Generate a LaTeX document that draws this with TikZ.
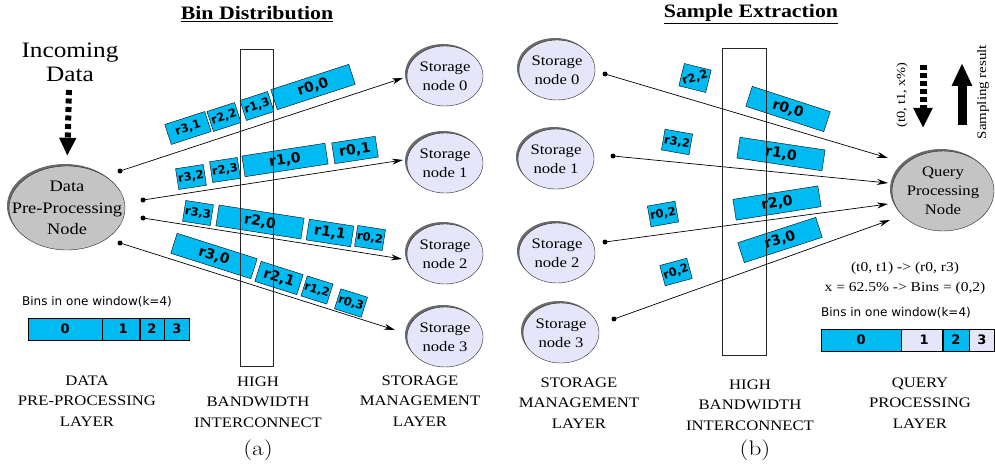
\documentclass[tikz,border=0pt]{standalone}
\usepackage{fontspec}
\setmainfont[FakeStretch=1.15]{Liberation Serif}
\newfontfamily\binfont{DejaVu Sans}
\newfontfamily\capfont[FakeStretch=1.2]{Latin Modern Roman}
\usepackage{tikz}
\usetikzlibrary{positioning,arrows.meta,shapes.geometric,shadows}
\definecolor{BinBlue}{HTML}{00BBF2}
\definecolor{StoreLav}{HTML}{E6E6FA}
\definecolor{ProcGray}{HTML}{C4C4C4}
\definecolor{ShadeGray}{HTML}{6A6A6A}
\tikzset{
  binbox/.style={draw=black, fill=BinBlue, minimum height=21pt, inner sep=0pt, text=black, font={\binfont\bfseries\fontsize{14}{16}\selectfont}},
  minibin/.style={binbox, font={\binfont\bfseries\fontsize{11.5}{13}\selectfont}},
  storenode/.style={ellipse, draw=black!85, fill=StoreLav, minimum width=76pt, minimum height=60pt, inner sep=0pt, align=center, font=\fontsize{14.5}{19}\selectfont, general shadow={fill=ShadeGray, shadow xshift=-2pt, shadow yshift=2pt}},
  procnode/.style={storenode, fill=ProcGray},
  linkarr/.style={-{Stealth[length=11pt,width=6pt]}, line width=0.7pt},
  startdot/.style={circle, fill=black, inner sep=0pt, minimum size=5pt},
  layerlabel/.style={align=center, font=\fontsize{14.5}{20.5}\selectfont},
  headline/.style={font=\bfseries\fontsize{19}{21}\selectfont},
  wintext/.style={font={\binfont\fontsize{12}{14}\selectfont}},
  wincell/.style={draw=black, fill=BinBlue, minimum height=22pt, inner sep=0pt, font={\binfont\bfseries\fontsize{13}{15}\selectfont}},
  hibw/.style={draw=black!85, line width=0.8pt},
  fatdash/.style={line width=6pt, dash pattern=on 5pt off 3.5pt, -{Triangle[length=18pt,width=16pt]}}
}

\begin{document}
\begin{tikzpicture}[x=1pt, y=-1pt]
  \useasboundingbox (0,0) rectangle (995,468);

  % ---------- (a) bin distribution ----------
  \node[headline] (ttla) at (257,14) {\underline{Bin Distribution}};
  \node[align=center, font=\fontsize{22}{24}\selectfont] (incd) at (70,62) {Incoming\\Data};
  \node[procnode, minimum width=116pt, minimum height=84pt, font=\fontsize{16}{21.5}\selectfont] (dpp) at (67,208) {Data\\\makebox[60pt]{Pre-Processing}\\Node};
  \coordinate (inc1) at (69,90);
  \draw[fatdash] (inc1) -- (dpp.north) [shorten >=10pt];

  \node[storenode] (ls0) at (445,76) {Storage\\node 0};
  \node[storenode] (ls1) at (445,163) {Storage\\node 1};
  \node[storenode] (ls2) at (445,254) {Storage\\node 2};
  \node[storenode] (ls3) at (445,337) {Storage\\node 3};

  \node[startdot] (ld0) at (120,171) {};
  \node[startdot] (ld1) at (143,200) {};
  \node[startdot] (ld2) at (143,218) {};
  \node[startdot] (ld3) at (120,243) {};
  \coordinate (le0) at (403,78);
  \coordinate (le1) at (403,160);
  \coordinate (le2) at (402,259);
  \coordinate (le3) at (395,330);
  \draw[linkarr] (ld0.center) -- (le0);
  \draw[linkarr] (ld1.center) -- (le1);
  \draw[linkarr] (ld2.center) -- (le2);
  \draw[linkarr] (ld3.center) -- (le3);

  % bins on the links
  \node[minibin, minimum width=42pt, rotate=18] (a31) at (188,128) {r3,1};
  \node[minibin, minimum width=29pt, rotate=18] (a22) at (224,117) {r2,2};
  \node[minibin, minimum width=29pt, rotate=18] (a13) at (257,106) {r1,3};
  \node[binbox, minimum width=82pt, rotate=18] (a00) at (313,87) {r0,0};
  \node[minibin, minimum width=28pt, rotate=8.7] (a32) at (191,177) {r3,2};
  \node[minibin, minimum width=28pt, rotate=8.7] (a23) at (225,170) {r2,3};
  \node[binbox, minimum width=84pt, rotate=8.7] (a10) at (285,160) {r1,0};
  \node[binbox, minimum width=44pt, rotate=8.7] (a01) at (355,150) {r0,1};
  \node[minibin, minimum width=28pt, rotate=-8.8] (a33) at (198,213) {r3,3};
  \node[binbox, minimum width=86pt, rotate=-8.8] (a20) at (260,222) {r2,0};
  \node[binbox, minimum width=45pt, rotate=-8.8] (a11) at (330,233) {r1,1};
  \node[minibin, minimum width=28pt, rotate=-8.8] (a02) at (370,238) {r0,2};
  \node[binbox, minimum width=84pt, rotate=-17.6] (a30) at (214,256) {r3,0};
  \node[binbox, minimum width=44pt, rotate=-17.6] (a21) at (279,278) {r2,1};
  \node[minibin, minimum width=27pt, rotate=-17.6] (a12) at (317,290) {r1,2};
  \node[minibin, minimum width=28pt, rotate=-17.6] (a03) at (351,303) {r0,3};

  \draw[hibw] (240,49) rectangle (273,366);

  \node[wintext] (wina) at (97,302) {Bins in one window(k=4)};
  \node[wincell, minimum width=74pt, anchor=west] (ac0) at (28,329) {0};
  \node[wincell, minimum width=37pt, right=0pt of ac0] (ac1) {\hspace*{4pt}1};
  \node[wincell, minimum width=24pt, right=0pt of ac1] (ac2) {2};
  \node[wincell, minimum width=25pt, right=0pt of ac2] (ac3) {3};

  \node[layerlabel] (laya1) at (87,401) {DATA\\PRE-PROCESSING\\LAYER};
  \node[layerlabel] (laya2) at (258,402) {HIGH\\BANDWIDTH\\INTERCONNECT};
  \node[layerlabel] (laya3) at (420,401) {STORAGE\\MANAGEMENT\\LAYER};
  \node[font=\capfont\fontsize{21}{24}\selectfont] (capa) at (258,450) {(a)};

  % ---------- (b) sample extraction ----------
  \node[headline] (ttlb) at (751,14) {\underline{Sample Extraction}};

  \node[storenode] (rs0) at (557,70) {Storage\\node 0};
  \node[storenode] (rs1) at (556,159) {Storage\\node 1};
  \node[storenode] (rs2) at (557,253) {Storage\\node 2};
  \node[storenode] (rs3) at (561,333) {Storage\\node 3};
  \node[procnode, minimum width=102pt, minimum height=80pt] (qpn) at (943,191) {Query\\\makebox[60pt]{Processing}\\Node};

  \node[startdot] (rd0) at (605,74) {};
  \node[startdot] (rd1) at (613,156) {};
  \node[startdot] (rd2) at (605,242) {};
  \node[startdot] (rd3) at (614,319) {};
  \coordinate (re0) at (888,158);
  \coordinate (re1) at (888,183);
  \coordinate (re2) at (888,204);
  \coordinate (re3) at (890,220);

  \node[minibin, minimum width=27pt, minimum height=23pt, rotate=-14] (b22) at (695,78) {\rotatebox{30}{r2,2}};
  \node[binbox, minimum width=82pt, rotate=-18] (b00) at (788,109) {r0,0};
  \node[minibin, minimum width=28pt, rotate=-10] (b32) at (677,142) {r3,2};
  \node[binbox, minimum width=86pt, rotate=-8.5] (b10) at (781,154) {r1,0};
  \node[minibin, minimum width=28pt, rotate=10] (b02) at (663,214) {r0,2};
  \node[binbox, minimum width=86pt, rotate=9] (b20) at (777,203) {r2,0};
  \node[minibin, minimum width=28pt, rotate=15] (b02x) at (676,272) {\rotatebox{5}{r0,2}};
  \node[binbox, minimum width=82pt, rotate=18] (b30) at (780,240) {r3,0};

  \draw[hibw] (722,48) rectangle (766,355);

  \draw[linkarr] (rd0.center) -- (re0);
  \draw[linkarr] (rd1.center) -- (re1);
  \draw[linkarr] (rd2.center) -- (re2);
  \draw[linkarr] (rd3.center) -- (re3);

  % query in, result out
  \coordinate (qin1) at (923,65);
  \coordinate (qin2) at (923,128);
  \coordinate (qout1) at (962,125);
  \coordinate (qout2) at (962,63);
  \draw[line width=7pt, dash pattern=on 5pt off 3pt, -{Triangle[length=20pt,width=18pt]}] (qin1) -- (qin2);
  \draw[line width=9pt, -{Triangle[length=23pt,width=19pt]}] (qout1) -- (qout2);
  \node[rotate=90, font=\fontsize{12.5}{14}\selectfont] (qarg) at (902,95) {(t0, t1, x\%)};
  \node[rotate=90, font=\fontsize{13}{15}\selectfont] (qres) at (983,92) {Sampling result};

  \node[font=\fontsize{13.5}{15}\selectfont] (map1) at (905,268) {(t0, t1) -> (r0, r3)};
  \node[font=\fontsize{13.5}{15}\selectfont] (map2) at (905,288) {x = 62.5\% -> Bins = (0,2)};
  \node[wintext] (winb) at (896,313) {Bins in one window(k=4)};
  \node[wincell, minimum width=80pt, anchor=west] (bc0) at (821,340) {0};
  \node[wincell, minimum width=41pt, fill=StoreLav, right=0pt of bc0] (bc1) {\hspace*{4pt}1};
  \node[wincell, minimum width=26pt, right=0pt of bc1] (bc2) {2};
  \node[wincell, minimum width=25pt, fill=StoreLav, right=0pt of bc2] (bc3) {3};

  \node[layerlabel] (layb1) at (579,403) {STORAGE\\MANAGEMENT\\LAYER};
  \node[layerlabel] (layb2) at (750,405) {HIGH\\BANDWIDTH\\INTERCONNECT};
  \node[layerlabel] (layb3) at (920,403) {QUERY\\PROCESSING\\LAYER};
  \node[font=\capfont\fontsize{21}{24}\selectfont] (capb) at (755,450) {(b)};
\end{tikzpicture}
\end{document}
